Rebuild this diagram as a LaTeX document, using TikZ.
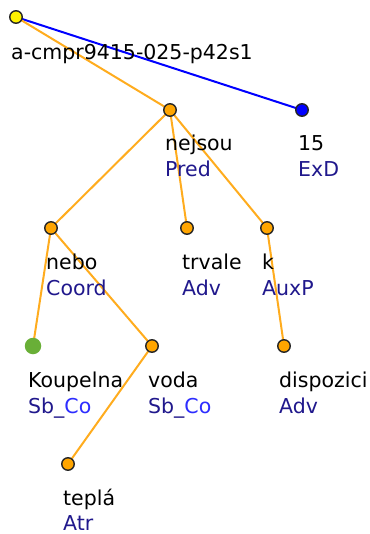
\documentclass[tikz,border=0pt]{standalone}
\usepackage{fontspec}
\setmainfont{DejaVu Sans}
\usepackage{xcolor}
\usepackage{tikz}
\usetikzlibrary{backgrounds}

\definecolor{deporange}{RGB}{255,172,30}
\definecolor{nodeorange}{RGB}{255,165,0}
\definecolor{funcblue}{RGB}{32,24,140}
\definecolor{coblue}{RGB}{45,45,255}
\definecolor{sbgreen}{RGB}{105,175,55}

\begin{document}
\begin{tikzpicture}[x=1pt,y=-1pt,
            dot/.style={shape=circle, inner sep=0pt, minimum size=12.5pt, draw=black!85, line width=1.4pt, fill=nodeorange},
            word/.style={anchor=base west, inner sep=0pt, font=\fontsize{20.5}{24}\selectfont},
            func/.style={word, text=funcblue},
            dep/.style={draw=deporange, line width=2pt}]
        \useasboundingbox (0,0) rectangle (369,534);

        % tree nodes
        \node[dot, fill=yellow] (root) at (16,17) {};
        \node[dot] (nejsou) at (170,110) {};
        \node[dot, fill=blue] (n15) at (302,110) {};
        \node[dot] (nebo) at (51,228) {};
        \node[dot] (trvale) at (187,228) {};
        \node[dot] (k) at (267,228) {};
        \node[dot, draw=none, fill=sbgreen, minimum size=16.5pt] (koupelna) at (33,346) {};
        \node[dot] (voda) at (152,346) {};
        \node[dot] (dispozici) at (284,346) {};
        \node[dot] (tepla) at (68,464) {};

        % word forms and afuns
        \node[word] (root-w) at (11,60) {a-cmpr9415-025-p42s1};
        \node[word] (nejsou-w) at (165,151) {nejsou};
        \node[func] (nejsou-f) at (165,177) {Pred};
        \node[word] (n15-w) at (298,151) {15};
        \node[func] (n15-f) at (298,177) {ExD};
        \node[word] (nebo-w) at (46,269) {nebo};
        \node[func] (nebo-f) at (46,295) {Coord};
        \node[word] (trvale-w) at (182,269) {trvale};
        \node[func] (trvale-f) at (182,295) {Adv};
        \node[word] (k-w) at (262,269) {k};
        \node[func] (k-f) at (262,295) {AuxP};
        \node[word] (koupelna-w) at (28,387) {Koupelna};
        \node[func] (koupelna-f) at (28,413) {Sb\_\textcolor{coblue}{Co}};
        \node[word] (voda-w) at (148,387) {voda};
        \node[func] (voda-f) at (148,413) {Sb\_\textcolor{coblue}{Co}};
        \node[word] (dispozici-w) at (279,387) {dispozici};
        \node[func] (dispozici-f) at (279,413) {Adv};
        \node[word] (tepla-w) at (63,505) {teplá};
        \node[func] (tepla-f) at (63,530) {Atr};

        % dependencies
        \begin{scope}[on background layer]
            \draw[draw=blue, line width=2pt] (root.center) -- (n15.center);
            \draw[dep] (root.center) -- (nejsou.center);
            \draw[dep] (nejsou.center) -- (nebo.center);
            \draw[dep] (nejsou.center) -- (trvale.center);
            \draw[dep] (nejsou.center) -- (k.center);
            \draw[dep] (nebo.center) -- (koupelna.center);
            \draw[dep] (nebo.center) -- (voda.center);
            \draw[dep] (k.center) -- (dispozici.center);
            \draw[dep] (voda.center) -- (tepla.center);
        \end{scope}
    \end{tikzpicture}
\end{document}
